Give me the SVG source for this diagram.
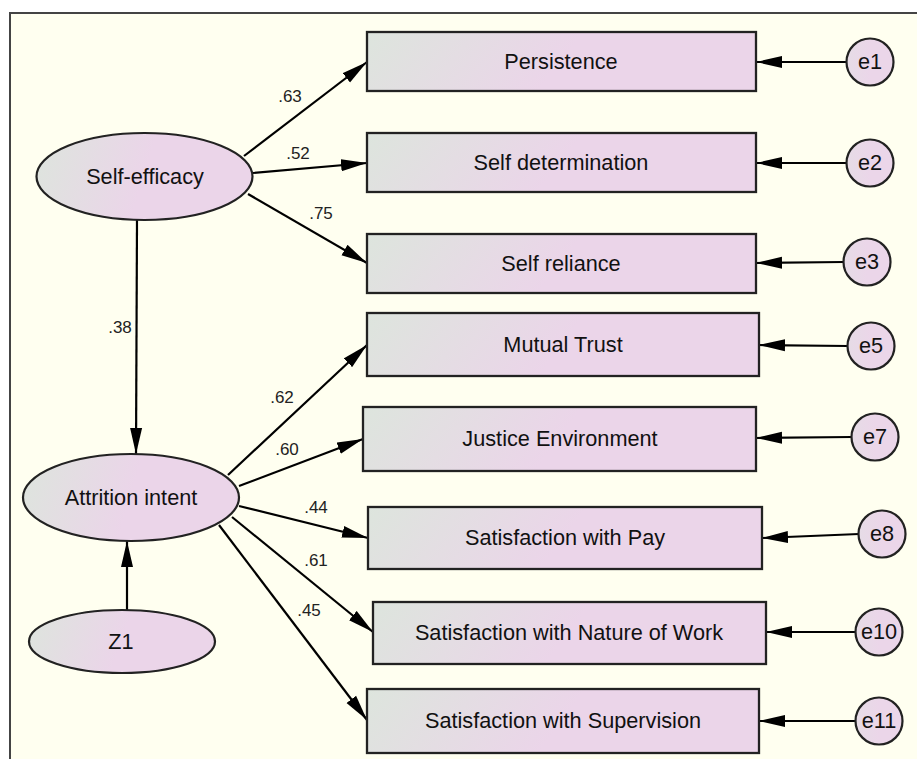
<svg xmlns="http://www.w3.org/2000/svg" width="917" height="759" viewBox="0 0 917 759">
<defs>
<linearGradient id="g" x1="0" y1="0" x2="1" y2="0.12">
<stop offset="0" stop-color="#dde5dd"/>
<stop offset="0.55" stop-color="#ebd5e9"/>
<stop offset="1" stop-color="#ebd5e9"/>
</linearGradient>
<linearGradient id="gc" x1="0" y1="0" x2="1" y2="0">
<stop offset="0" stop-color="#e6dce6"/>
<stop offset="0.5" stop-color="#ebd6e9"/>
<stop offset="1" stop-color="#ebd6e9"/>
</linearGradient>
<marker id="ah" markerUnits="userSpaceOnUse" markerWidth="27" markerHeight="13" refX="26" refY="6.5" orient="auto">
<path d="M0,0.5 L26,6.5 L0,12.5 z" fill="#000"/>
</marker>
<style>
.bg{fill:#fffff0}
.frame{fill:none;stroke:#444;stroke-width:2}
.box{fill:url(#g);stroke:#222;stroke-width:2.3}
.lat{fill:url(#g);stroke:#222;stroke-width:2.2}
.err{fill:url(#gc);stroke:#222;stroke-width:2.2}
.t{font-family:"Liberation Sans",Arial,sans-serif;font-size:21.7px;fill:#111;text-anchor:middle}
.lb{font-family:"Liberation Sans",Arial,sans-serif;font-size:17px;fill:#222;text-anchor:middle}
.c line{stroke:#000;stroke-width:2.2;marker-end:url(#ah)}
</style>
</defs>
<rect x="0" y="0" width="917" height="759" fill="#fff"/>
<rect class="bg" x="10" y="13" width="907" height="746"/>
<path class="frame" d="M10,759 L10,13 L917,13"/>

<g id="connectors" class="c">
<line x1="244" y1="156" x2="367" y2="62"/>
<line x1="253" y1="173" x2="367" y2="163"/>
<line x1="248" y1="194" x2="367" y2="263"/>
<line x1="137" y1="220" x2="136" y2="454"/>
<line x1="127" y1="610" x2="127" y2="541"/>
<line x1="228" y1="475" x2="367" y2="345"/>
<line x1="239" y1="486" x2="363" y2="439"/>
<line x1="239" y1="506" x2="368" y2="538"/>
<line x1="232" y1="517" x2="373" y2="632"/>
<line x1="219" y1="525" x2="367" y2="720"/>
<line x1="847" y1="62" x2="756" y2="62"/>
<line x1="847" y1="163" x2="756" y2="163"/>
<line x1="844" y1="262" x2="756" y2="263"/>
<line x1="848" y1="346" x2="759" y2="345"/>
<line x1="852" y1="437" x2="756" y2="438"/>
<line x1="859" y1="534" x2="762" y2="538"/>
<line x1="856" y1="632" x2="766" y2="632"/>
<line x1="856" y1="721" x2="759" y2="721"/>
</g>

<g id="labels">
<text class="lb" x="290" y="102">.63</text>
<text class="lb" x="298" y="159">.52</text>
<text class="lb" x="321" y="219">.75</text>
<text class="lb" x="120" y="333">.38</text>
<text class="lb" x="282" y="403">.62</text>
<text class="lb" x="287" y="455">.60</text>
<text class="lb" x="316" y="513">.44</text>
<text class="lb" x="316" y="566">.61</text>
<text class="lb" x="309" y="616">.45</text>
</g>

<g id="self-efficacy"><ellipse class="lat" cx="144.5" cy="176.5" rx="108" ry="43.5"/><text class="t" x="145" y="184">Self-efficacy</text></g>
<g id="attrition-intent"><ellipse class="lat" cx="131" cy="497.5" rx="108" ry="43.5"/><text class="t" x="131" y="505">Attrition intent</text></g>
<g id="z1"><ellipse class="lat" cx="122" cy="641.5" rx="93" ry="31.5"/><text class="t" x="121" y="649">Z1</text></g>

<g id="persistence"><rect class="box" x="367" y="32" width="389" height="59"/><text class="t" x="561" y="69">Persistence</text></g>
<g id="self-determination"><rect class="box" x="367" y="133" width="389" height="59"/><text class="t" x="561" y="170">Self determination</text></g>
<g id="self-reliance"><rect class="box" x="367" y="234" width="389" height="59"/><text class="t" x="561" y="271">Self reliance</text></g>
<g id="mutual-trust"><rect class="box" x="367" y="313" width="392" height="63"/><text class="t" x="563" y="352">Mutual Trust</text></g>
<g id="justice-environment"><rect class="box" x="363" y="407" width="393" height="64"/><text class="t" x="560" y="446">Justice Environment</text></g>
<g id="satisfaction-pay"><rect class="box" x="368" y="507" width="394" height="62"/><text class="t" x="565" y="545">Satisfaction with Pay</text></g>
<g id="satisfaction-nature"><rect class="box" x="373" y="602" width="393" height="62"/><text class="t" x="569" y="640">Satisfaction with Nature of Work</text></g>
<g id="satisfaction-supervision"><rect class="box" x="367" y="689" width="392" height="64"/><text class="t" x="563" y="728">Satisfaction with Supervision</text></g>

<g id="e1"><circle class="err" cx="870" cy="62" r="23.5"/><text class="t" x="870" y="69">e1</text></g>
<g id="e2"><circle class="err" cx="870" cy="163" r="23.5"/><text class="t" x="870" y="170">e2</text></g>
<g id="e3"><circle class="err" cx="867" cy="262" r="23.5"/><text class="t" x="867" y="269">e3</text></g>
<g id="e5"><circle class="err" cx="871" cy="346" r="23.5"/><text class="t" x="871" y="353">e5</text></g>
<g id="e7"><circle class="err" cx="875" cy="437" r="23.5"/><text class="t" x="875" y="444">e7</text></g>
<g id="e8"><circle class="err" cx="882" cy="534" r="23.5"/><text class="t" x="882" y="541">e8</text></g>
<g id="e10"><circle class="err" cx="879" cy="632" r="23.5"/><text class="t" x="879" y="639">e10</text></g>
<g id="e11"><circle class="err" cx="879" cy="721" r="23.5"/><text class="t" x="879" y="728">e11</text></g>
</svg>
